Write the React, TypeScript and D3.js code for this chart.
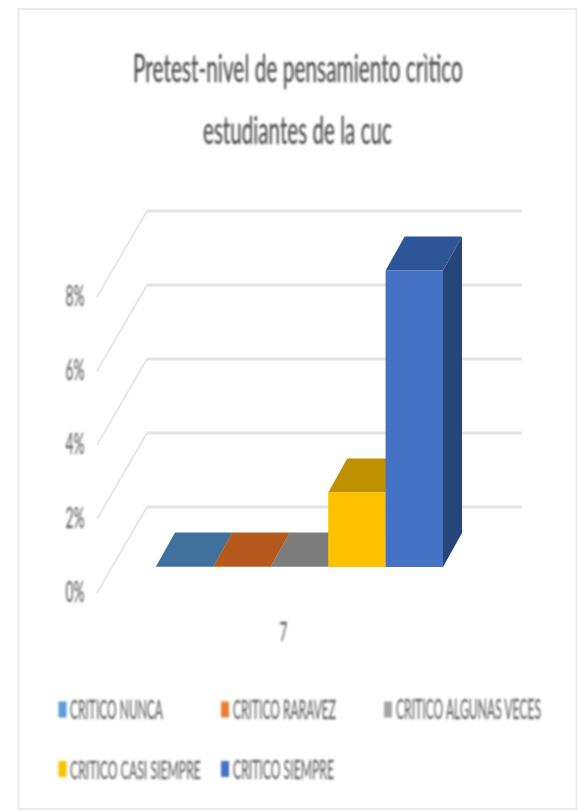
import React from "react";
import * as d3 from "d3";

const categories = ["CRITICO NUNCA", "CRITICO RARAVEZ", "CRITICO ALGUNAS VECES", "CRITICO CASI SIEMPRE", "CRITICO SIEMPRE"];
const values = [0, 0, 0, 2, 8];
const frontColors = ["#41719C", "#B55A1E", "#7B7B7B", "#FFC000", "#4472C4"];
const topColors = ["#41719C", "#B55A1E", "#7B7B7B", "#BF9000", "#2F5597"];
const sideColors = ["#335A7D", "#8F4716", "#636363", "#997300", "#264478"];
const legendColors = ["#5B9BD5", "#ED7D31", "#A5A5A5", "#FFC000", "#4472C4"];
const ticks = [0, 2, 4, 6, 8];
const axisCategory = "7";
const titleLines = ["Pretest-nivel de pensamiento crìtico", "estudiantes de la cuc"];

const FONT = "Lato, 'Open Sans', sans-serif";
const depthX = 50, depthY = -86;      // wall depth
const barDX = 19, barDY = -34;        // bar depth

const y = d3.scaleLinear().domain([0, 8]).range([593, 297]);
const x = d3.scaleBand<string>().domain(categories).range([156, 443]).padding(0);

const legendPos = [
  { x: 58.5, y: 709.5, tx: 70, w: 93 },
  { x: 221, y: 709.5, tx: 233, w: 103 },
  { x: 384, y: 709.5, tx: 396, w: 146 },
  { x: 58.5, y: 769, tx: 70, w: 131 },
  { x: 221, y: 769, tx: 233, w: 101 },
];
const poly = (pts: number[][]) => (d3.line()(pts as [number, number][]) as string) + "Z";

const ctx = document.createElement("canvas").getContext("2d")!;
const naturalWidth = (s: string, size: number) => {
  ctx.font = `${size}px Lato`;
  return ctx.measureText(s).width;
};

function Squeezed({ s, left, base, size, width }: { s: string; left: number; base: number; size: number; width: number }) {
  return (
    <text transform={`translate(${left},${base}) scale(${width / naturalWidth(s, size)},1)`} fontSize={size}>{s}</text>
  );
}

export default function App() {
  const base = y(0) - 26; // front base of the bars
  return (
    <svg width={585} height={812} style={{ position: "absolute", left: 0, top: 0, background: "#fff" }} fontFamily={FONT}>
      <defs>
        <filter id="soft" x="-5%" y="-5%" width="110%" height="110%"><feGaussianBlur stdDeviation="0.75" /></filter>
        <filter id="softT" x="-5%" y="-5%" width="110%" height="110%"><feGaussianBlur stdDeviation="0.8" /></filter>
      </defs>
      <rect x={18.5} y={9} width={558} height={800} fill="#fff" stroke="#ebebeb" strokeWidth={2} />
      <g filter="url(#softT)" fill="#4f4f4f" stroke="#4f4f4f" strokeWidth={0.35}>
        <Squeezed s={titleLines[0]} left={133} base={81.5} size={38} width={330} />
        <Squeezed s={titleLines[1]} left={203} base={144} size={38} width={189} />
      </g>
      <g filter="url(#soft)">
        {ticks.map((t) => (
          <g key={t} stroke="#e4e4e4" fill="none">
            <path d={`M${97},${y(t)}L${97 + depthX},${y(t) + depthY}`} strokeWidth={1.8} />
            <path d={`M${97 + depthX},${y(t) + depthY}H522`} strokeWidth={3} />
          </g>
        ))}
        {values.map((v, i) => {
          const c = categories[i];
          const x0 = x(c)!, x1 = x0 + x.bandwidth();
          const top = y(v) - 26.5;
          return (
            <g key={c}>
              <path d={poly([[x1, top], [x1 + barDX, top + barDY], [x1 + barDX, base + barDY], [x1, base]])} fill={sideColors[i]} />
              <path d={poly([[x0, top], [x1, top], [x1 + barDX, top + barDY], [x0 + barDX, top + barDY]])} fill={topColors[i]} />
              <rect x={x0} y={top} width={x1 - x0} height={base - top} fill={frontColors[i]} />
            </g>
          );
        })}
      </g>
      <g filter="url(#softT)" fill="#666" stroke="#666" strokeWidth={0.3}>
        {ticks.map((t) => (
          <Squeezed key={t} s={`${t}%`} left={65.5} base={y(t) + 9} size={28} width={19} />
        ))}
        <Squeezed s={axisCategory} left={279.5} base={641} size={27} width={8} />
        {categories.map((c, i) => (
          <g key={c}>
            <rect x={legendPos[i].x} y={legendPos[i].y - 8} width={8} height={16} fill={legendColors[i]} stroke="none" />
            <Squeezed s={c} left={legendPos[i].tx} base={legendPos[i].y + 9.5} size={26} width={legendPos[i].w} />
          </g>
        ))}
      </g>
    </svg>
  );
}
